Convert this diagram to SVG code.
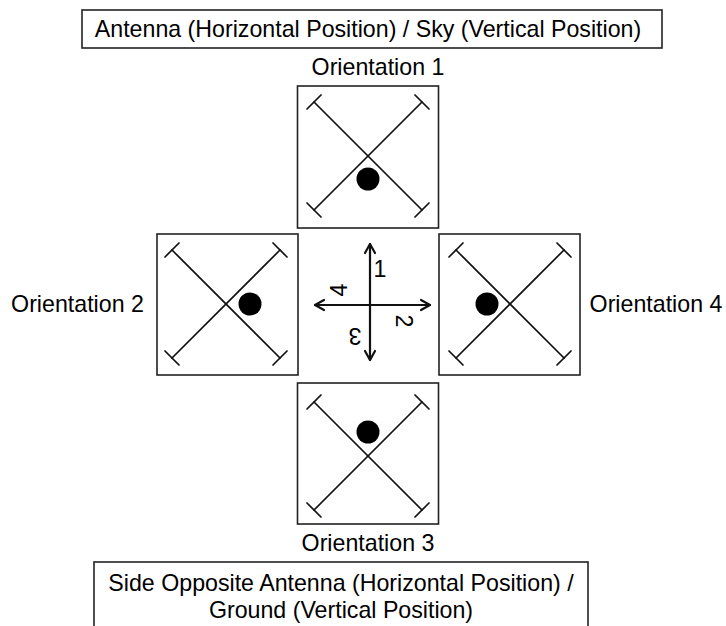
<svg xmlns="http://www.w3.org/2000/svg" width="726" height="626" viewBox="0 0 726 626">
<defs>
<style>
.t{font-family:"Liberation Sans",Arial,sans-serif;font-size:23.2px;fill:#000;text-anchor:middle}
.frame{fill:#fff;stroke:#222;stroke-width:1.6}
.x{stroke:#111;stroke-width:1.7;fill:none;stroke-linecap:round}
.dot{fill:#000}
.ax{stroke:#111;stroke-width:2.2;fill:none;stroke-linecap:round;stroke-linejoin:round}
</style>
<g id="cross">
<line class="x" x1="-54" y1="-54" x2="54" y2="54"/>
<line class="x" x1="54" y1="-54" x2="-54" y2="54"/>
<line class="x" x1="-61" y1="-47" x2="-47" y2="-61"/>
<line class="x" x1="47" y1="61" x2="61" y2="47"/>
<line class="x" x1="47" y1="-61" x2="61" y2="-47"/>
<line class="x" x1="-61" y1="47" x2="-47" y2="61"/>
</g>
</defs>
<rect width="726" height="626" fill="#fff"/>

<g id="top-label">
<rect class="frame" x="82" y="10" width="580" height="38"/>
<text class="t" x="368" y="37">Antenna (Horizontal Position) / Sky (Vertical Position)</text>
</g>

<g id="orientation1">
<text class="t" x="378" y="75">Orientation 1</text>
<rect class="frame" x="297.5" y="86" width="141" height="142"/>
<use href="#cross" x="368" y="156"/>
<circle class="dot" cx="368" cy="179" r="11.5"/>
</g>

<g id="orientation2">
<text class="t" x="77.5" y="312">Orientation 2</text>
<rect class="frame" x="157" y="234" width="141" height="141"/>
<use href="#cross" x="226" y="304"/>
<circle class="dot" cx="250" cy="304" r="11.5"/>
</g>

<g id="orientation4">
<text class="t" x="656" y="312">Orientation 4</text>
<rect class="frame" x="439" y="234" width="141" height="141"/>
<use href="#cross" x="510" y="304"/>
<circle class="dot" cx="487" cy="304" r="11.5"/>
</g>

<g id="orientation3">
<rect class="frame" x="297.5" y="383" width="141" height="141"/>
<use href="#cross" x="368" y="456"/>
<circle class="dot" cx="368" cy="432" r="11.5"/>
<text class="t" x="368" y="551">Orientation 3</text>
</g>

<g id="bottom-label">
<rect class="frame" x="94" y="562" width="494" height="80"/>
<text class="t" x="341" y="591">Side Opposite Antenna (Horizontal Position) /</text>
<text class="t" x="341" y="618">Ground (Vertical Position)</text>
</g>

<g id="connectors">
<line class="ax" x1="370" y1="244" x2="370" y2="360"/>
<line class="ax" x1="315" y1="305" x2="430" y2="305"/>
<polyline class="ax" points="365,253 370,244 375,253"/>
<polyline class="ax" points="365,351 370,360 375,351"/>
<polyline class="ax" points="324,300 315,305 324,310"/>
<polyline class="ax" points="421,300 430,305 421,310"/>
</g>

<g id="axis-labels">
<text class="t" transform="translate(380,268.5)" y="8.3">1</text>
<text class="t" transform="translate(404,321) rotate(90)" y="8.3">2</text>
<text class="t" transform="translate(355,336) rotate(180)" y="8.3">3</text>
<text class="t" transform="translate(339,290) rotate(-90)" y="8.3">4</text>
</g>
</svg>
